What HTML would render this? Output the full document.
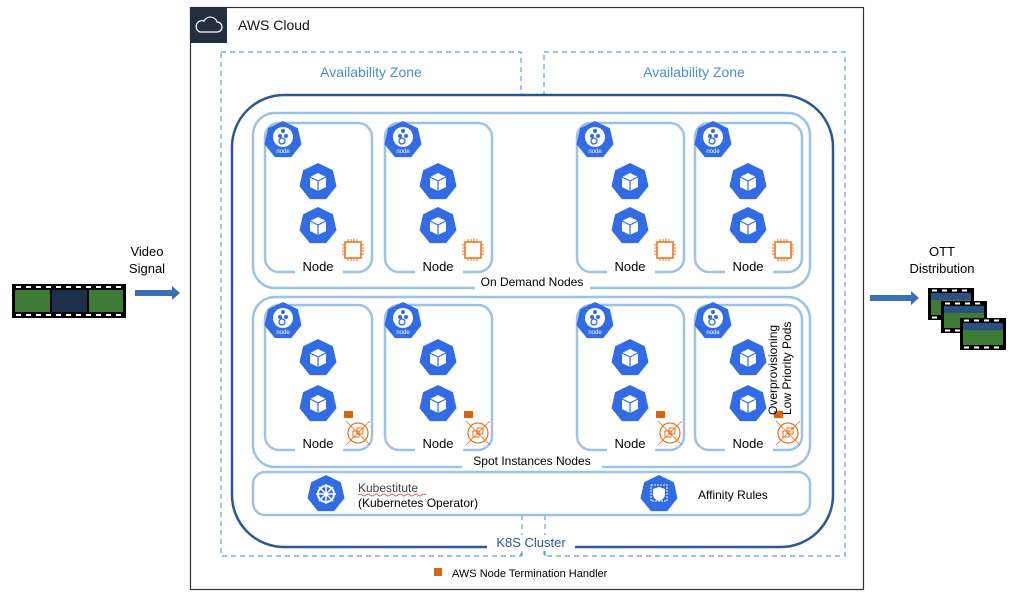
<!DOCTYPE html>
<html><head><meta charset="utf-8"><style>body{margin:0;background:#fff}svg{display:block}text{font-family:"Liberation Sans",sans-serif}</style></head><body>
<svg width="1024" height="600" viewBox="0 0 1024 600" xmlns="http://www.w3.org/2000/svg">
<defs>
<polygon id="hep" points="0,-19 14.9,-11.8 18.5,4.2 8.2,17.1 -8.2,17.1 -18.5,4.2 -14.9,-11.8" fill="#326ce5"/>
<g id="pod"><use href="#hep"/><path d="M0,-9 L8,-5 L8,5 L0,9 L-8,5 L-8,-5 Z" fill="#fff"/><path d="M-8,-5 L0,-1 L8,-5 M0,-1 L0,9" stroke="#326ce5" stroke-width="1.2" fill="none"/></g>
<g id="kn"><use href="#hep"/><circle cx="0" cy="-3" r="10" fill="#fff"/><circle cx="0" cy="-9" r="2" fill="#326ce5"/><circle cx="-3" cy="-4" r="2" fill="#326ce5"/><circle cx="3" cy="-4" r="2" fill="#326ce5"/><circle cx="-1" cy="1" r="3" fill="none" stroke="#326ce5" stroke-width="1.3"/><text x="0" y="13" font-size="6" fill="#fff" text-anchor="middle">node</text></g>
<g id="chip"><rect x="-8" y="-8" width="16" height="16" fill="none" stroke="#e8701a" stroke-width="1.5"/><path d="M-5,-8v-3M-2,-8v-3M1,-8v-3M4,-8v-3M-5,8v3M-2,8v3M1,8v3M4,8v3M-8,-5h-3M-8,-2h-3M-8,1h-3M-8,4h-3M8,-5h3M8,-2h3M8,1h3M8,4h3" stroke="#e8701a" stroke-width="1"/></g>
<g id="tgt"><circle r="10" fill="none" stroke="#e8701a" stroke-width="1.2"/><rect x="-5" y="-2" width="6" height="6" fill="none" stroke="#e8701a"/><rect x="-1" y="-5" width="6" height="6" fill="none" stroke="#e8701a"/><path d="M-12,-12L12,12M12,-12L-12,12" stroke="#e8701a" stroke-width="0.8"/></g>
<g id="odn"><rect x="0" y="0" width="107" height="149" rx="14" fill="#fff" stroke="#9cc3e6" stroke-width="2.5"/><rect x="30" y="138" width="48" height="16" fill="#fff"/><text x="53" y="148" font-size="13" text-anchor="middle">Node</text><use href="#kn" x="18" y="17"/><use href="#pod" x="53" y="59"/><use href="#pod" x="53" y="103"/><use href="#chip" x="88" y="127"/></g>
<g id="spn"><rect x="0" y="0" width="107" height="145" rx="14" fill="#fff" stroke="#9cc3e6" stroke-width="2.5"/><rect x="30" y="134" width="48" height="16" fill="#fff"/><text x="53" y="143" font-size="13" text-anchor="middle">Node</text><use href="#kn" x="18" y="16"/><use href="#pod" x="53" y="53"/><use href="#pod" x="53" y="99"/><rect x="79" y="106" width="9" height="7" fill="#d9640f"/><use href="#tgt" x="93" y="128"/></g>
<g id="film"><rect x="0" y="0" width="114" height="34" fill="#000"/><rect x="3" y="6" width="35" height="22" fill="#3d7a35"/><rect x="40" y="6" width="35" height="22" fill="#1d2f4a"/><rect x="77" y="6" width="34" height="22" fill="#3d7a35"/><g fill="#fff"><rect x="4" y="2" width="5" height="2"/><rect x="14" y="2" width="5" height="2"/><rect x="24" y="2" width="5" height="2"/><rect x="34" y="2" width="5" height="2"/><rect x="44" y="2" width="5" height="2"/><rect x="54" y="2" width="5" height="2"/><rect x="64" y="2" width="5" height="2"/><rect x="74" y="2" width="5" height="2"/><rect x="84" y="2" width="5" height="2"/><rect x="94" y="2" width="5" height="2"/><rect x="104" y="2" width="5" height="2"/><rect x="4" y="30" width="5" height="2"/><rect x="14" y="30" width="5" height="2"/><rect x="24" y="30" width="5" height="2"/><rect x="34" y="30" width="5" height="2"/><rect x="44" y="30" width="5" height="2"/><rect x="54" y="30" width="5" height="2"/><rect x="64" y="30" width="5" height="2"/><rect x="74" y="30" width="5" height="2"/><rect x="84" y="30" width="5" height="2"/><rect x="94" y="30" width="5" height="2"/><rect x="104" y="30" width="5" height="2"/></g></g>
<g id="sf"><rect x="0" y="0" width="46" height="32" fill="#000"/><rect x="3" y="5" width="40" height="22" fill="#3d7a35"/><rect x="3" y="5" width="40" height="7" fill="#2a4f80"/><g fill="#fff"><rect x="4" y="1.5" width="5" height="2"/><rect x="14" y="1.5" width="5" height="2"/><rect x="24" y="1.5" width="5" height="2"/><rect x="34" y="1.5" width="5" height="2"/><rect x="4" y="28.5" width="5" height="2"/><rect x="14" y="28.5" width="5" height="2"/><rect x="24" y="28.5" width="5" height="2"/><rect x="34" y="28.5" width="5" height="2"/></g></g>
</defs>

<!-- AWS cloud -->
<rect x="190.5" y="7.5" width="673" height="582" fill="#fff" stroke="#333" stroke-width="1.2"/>
<rect x="190" y="7" width="37" height="36" fill="#232f3e"/>
<path d="M200,32 h17 a5,5 0 0 0 0,-10 a7,7 0 0 0 -13,-1 a5,5 0 0 0 -4,11 z" fill="none" stroke="#fff" stroke-width="1.2"/>
<text x="238" y="30" font-size="14" fill="#111">AWS Cloud</text>

<!-- AZ -->
<rect x="221" y="52" width="300" height="504" fill="none" stroke="#5aa0dc" stroke-width="1.2" stroke-dasharray="5,4"/>
<rect x="544" y="52" width="301" height="504" fill="none" stroke="#5aa0dc" stroke-width="1.2" stroke-dasharray="5,4"/>
<text x="371" y="77" font-size="14" fill="#4a8fd0" text-anchor="middle">Availability Zone</text>
<text x="694" y="77" font-size="14" fill="#4a8fd0" text-anchor="middle">Availability Zone</text>

<!-- K8S cluster -->
<rect x="232" y="95" width="601" height="452" rx="52" fill="#fff" stroke="#2b5797" stroke-width="2.5"/>
<line x1="522" y1="515" x2="522" y2="556" stroke="#5aa0dc" stroke-width="1.2" stroke-dasharray="5,4"/>
<line x1="545" y1="515" x2="545" y2="556" stroke="#5aa0dc" stroke-width="1.2" stroke-dasharray="5,4"/>
<rect x="487" y="535" width="88" height="16" fill="#fff"/>
<text x="531" y="547" font-size="13" fill="#2b5797" text-anchor="middle">K8S Cluster</text>

<!-- On demand group -->
<rect x="253" y="113" width="557" height="175" rx="22" fill="#fff" stroke="#9cc3e6" stroke-width="2.5"/>
<rect x="475" y="280" width="115" height="14" fill="#fff"/>
<text x="532" y="286" font-size="12" text-anchor="middle">On Demand Nodes</text>
<use href="#odn" x="265" y="123"/>
<use href="#odn" x="385" y="123"/>
<use href="#odn" x="577" y="123"/>
<use href="#odn" x="695" y="123"/>

<!-- Spot group -->
<rect x="253" y="297" width="557" height="170" rx="22" fill="#fff" stroke="#9cc3e6" stroke-width="2.5"/>
<rect x="462" y="459" width="140" height="14" fill="#fff"/>
<text x="532" y="465" font-size="12" text-anchor="middle">Spot Instances Nodes</text>
<use href="#spn" x="265" y="305"/>
<use href="#spn" x="385" y="305"/>
<use href="#spn" x="577" y="305"/>
<use href="#spn" x="695" y="305"/>
<text transform="translate(777,415) rotate(-90)" font-size="12">Overprovisioning</text>
<text transform="translate(791,415) rotate(-90)" font-size="12">Low Priority Pods</text>

<!-- Kubestitute box -->
<rect x="253" y="472" width="557" height="43" rx="12" fill="#fff" stroke="#9cc3e6" stroke-width="2.5"/>
<use href="#hep" x="326" y="494"/>
<circle cx="326" cy="494" r="8" fill="none" stroke="#fff" stroke-width="2"/>
<path d="M326,484v20M316,494h20M319,487l14,14M333,487l-14,14" stroke="#fff" stroke-width="1.5"/>
<text x="358" y="492" font-size="12" font-family="Liberation Mono" fill="#444">Kubestitute</text>
<path d="M358,495 q2,-2 4,0 t4,0 t4,0 t4,0 t4,0 t4,0 t4,0 t4,0 t4,0 t4,0 t4,0 t4,0 t4,0 t4,0 t4,0 t4,0 t4,0" stroke="#e03030" stroke-width="0.7" fill="none"/>
<text x="358" y="507" font-size="12">(Kubernetes Operator)</text>
<use href="#hep" x="659" y="494"/>
<rect x="651" y="485" width="16" height="16" fill="none" stroke="#fff" stroke-dasharray="2,1"/>
<path d="M659,487 l6,2 v5 q0,5 -6,7 q-6,-2 -6,-7 v-5z" fill="#fff"/>
<text x="698" y="499" font-size="12">Affinity Rules</text>

<!-- termination handler legend -->
<rect x="434" y="568" width="8" height="8" fill="#d9640f"/>
<text x="452" y="577" font-size="11">AWS Node Termination Handler</text>

<!-- Video signal -->
<text x="147" y="256" font-size="13" text-anchor="middle">Video</text>
<text x="147" y="273" font-size="13" text-anchor="middle">Signal</text>
<use href="#film" x="12" y="284"/>
<path d="M135,290 h37 v-4 l8,7 l-8,7 v-4 h-37 z" fill="#3a6fb8"/>

<!-- OTT -->
<text x="942" y="256" font-size="13" text-anchor="middle">OTT</text>
<text x="942" y="273" font-size="13" text-anchor="middle">Distribution</text>
<path d="M870,295 h41 v-4 l8,7 l-8,7 v-4 h-41 z" fill="#3a6fb8"/>
<use href="#sf" x="928" y="288"/>
<use href="#sf" x="941" y="301"/>
<use href="#sf" x="960" y="318" transform="scale(1)"/>
</svg>
</body></html>
